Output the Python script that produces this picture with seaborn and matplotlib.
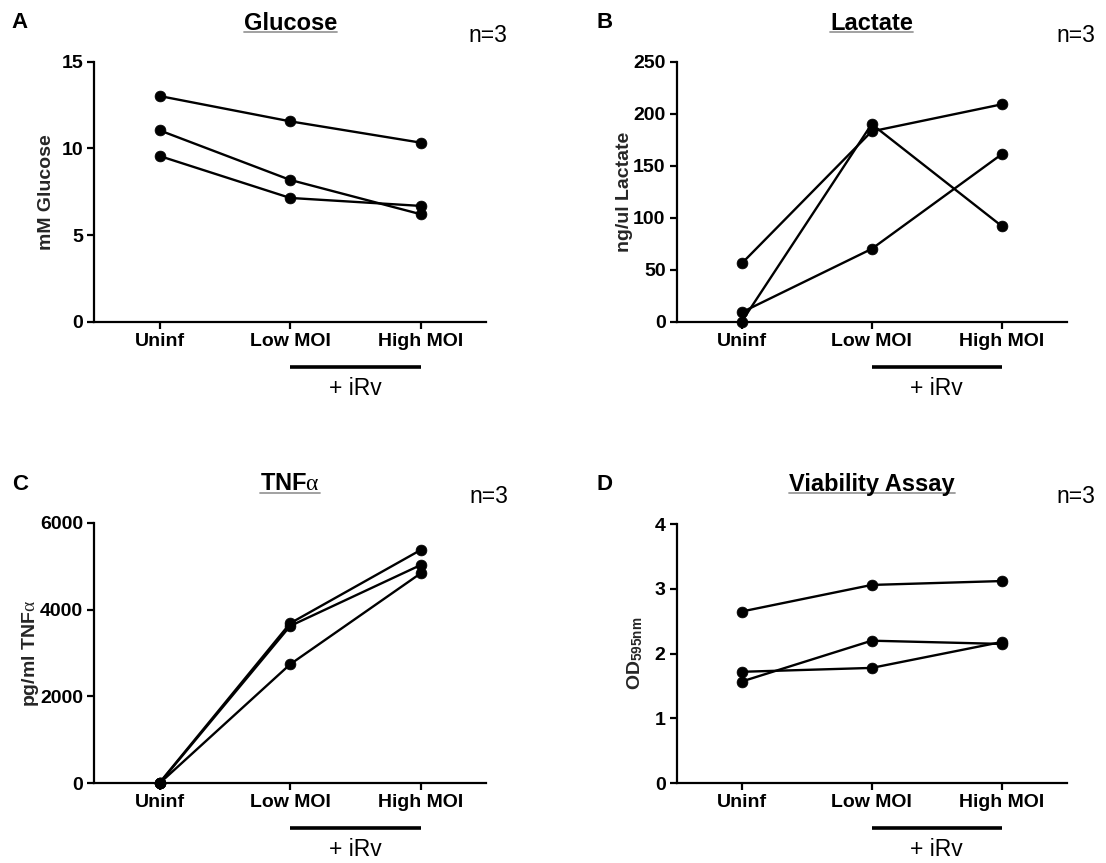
import numpy as np
import pandas as pd
import matplotlib
matplotlib.use("Agg")
import matplotlib.pyplot as plt
from matplotlib.lines import Line2D
import matplotlib.transforms as mtransforms
import seaborn as sns

# ---- data -------------------------------------------------------------
conditions = ["Uninf", "Low MOI", "High MOI"]
donors = ["Donor 1", "Donor 2", "Donor 3"]

glucose = [[13.02, 11.56, 10.33], [11.04, 8.18, 6.20], [9.56, 7.14, 6.68]]
lactate = [[56, 183, 209], [0, 190, 92], [9, 70, 161]]
tnf_alpha = [[15, 3684, 5372], [5, 3622, 5026], [0, 2740, 4835]]
viability = [[2.65, 3.06, 3.12], [1.57, 2.20, 2.15], [1.72, 1.78, 2.18]]

panel_letters = ["A", "B", "C", "D"]
titles = ["Glucose", "Lactate", r"TNF$\mathrm{\alpha}$", "Viability Assay"]
ylabels = ["mM Glucose", "ng/ul Lactate", r"pg/ml TNF$\mathrm{\alpha}$",
           r"OD$_{\mathbf{595nm}}$"]
yticks = [[0, 5, 10, 15], [0, 50, 100, 150, 200, 250],
          [0, 2000, 4000, 6000], [0, 1, 2, 3, 4]]
sample_note = "n=3"
treatment_label = "+ iRv"

# ---- style ------------------------------------------------------------
sns.set_theme(style="ticks")
plt.rcParams["font.family"] = ["Liberation Sans", "DejaVu Sans"]
plt.rcParams["mathtext.fontset"] = "custom"
plt.rcParams["mathtext.rm"] = "Liberation Serif"
plt.rcParams["mathtext.it"] = "Liberation Serif:italic"
plt.rcParams["mathtext.bf"] = "Liberation Sans:bold"
plt.rcParams["axes.linewidth"] = 1.6
plt.rcParams["axes.edgecolor"] = "black"

W, H = 1106, 863
fig = plt.figure(figsize=(W / 100, H / 100), dpi=100)

# panel boxes in pixels: left, top, right, bottom
boxes = [(94.3, 61.7, 486.0, 321.7),
         (676.7, 61.7, 1066.7, 321.7),
         (94.3, 522.7, 486.0, 783.3),
         (676.7, 524.0, 1066.7, 783.3)]
ylabel_x = [-0.121, -0.134, -0.162, -0.107]
letter_pos = [(11, 28.5), (596, 28.0), (12, 490), (596, 490)]
title_base = [29.5, 29.5, 490.5, 491.0]
note_pos = [(468, 41.7), (1056, 41.7), (469, 503.3), (1056, 503.3)]

datasets = [glucose, lactate, tnf_alpha, viability]
title_texts = []

for i, (vals, box) in enumerate(zip(datasets, boxes)):
    l, t, r, b = box
    ax = fig.add_axes([l / W, 1 - b / H, (r - l) / W, (b - t) / H])

    df = pd.DataFrame(
        [(donors[d], j, vals[d][j]) for d in range(len(donors))
         for j in range(len(conditions))],
        columns=["donor", "pos", "value"],
    )
    sns.lineplot(data=df, x="pos", y="value", units="donor", estimator=None,
                 color="black", marker="o", markersize=7.8,
                 markeredgecolor="black", markeredgewidth=0.5,
                 linewidth=1.7, clip_on=False, legend=False, ax=ax)

    ax.set_xlim(-0.5, len(conditions) - 0.5)
    ax.set_ylim(yticks[i][0], yticks[i][-1])
    ax.set_xticks(range(len(conditions)), conditions, fontweight="bold")
    ax.set_yticks(yticks[i], [str(v) for v in yticks[i]], fontweight="bold")
    ax.tick_params(direction="out", length=5, width=1.6, labelsize=14,
                   pad=3, colors="black")
    sns.despine(ax=ax)
    ax.set_xlabel("")
    ax.set_ylabel(ylabels[i], fontsize=14, fontweight="bold", va="center")
    ax.yaxis.set_label_coords(ylabel_x[i], 0.5)

    # bracket marking the infected conditions
    trans = mtransforms.blended_transform_factory(ax.transData, ax.transAxes)
    ax.add_line(Line2D([1, 2], [-0.173, -0.173], transform=trans,
                       color="black", linewidth=2.6, clip_on=False,
                       solid_capstyle="butt"))
    ax.text(1.5, -0.28, treatment_label, transform=trans, ha="center",
            va="baseline", fontsize=16.5, color="black")

    cx = (l + r) / 2
    tt = fig.text(cx / W, 1 - title_base[i] / H, titles[i], ha="center",
                  va="baseline", fontsize=17, fontweight="bold", color="black")
    title_texts.append((tt, title_base[i]))

    lx, ly = letter_pos[i]
    fig.text(lx / W, 1 - ly / H, panel_letters[i], ha="left", va="baseline",
             fontsize=16, fontweight="bold", color="black")
    nx, ny = note_pos[i]
    fig.text(nx / W, 1 - ny / H, sample_note, ha="left", va="baseline",
             fontsize=16.5, color="black")

# underline the panel titles
fig.canvas.draw()
renderer = fig.canvas.get_renderer()
for tt, base in title_texts:
    bb = tt.get_window_extent(renderer)
    y = 1 - (base + 2.5) / H
    fig.add_artist(Line2D([bb.x0 / W, bb.x1 / W], [y, y], color="#9a9a9a",
                          linewidth=1.3, transform=fig.transFigure))

fig.savefig("out.png", dpi=100)
